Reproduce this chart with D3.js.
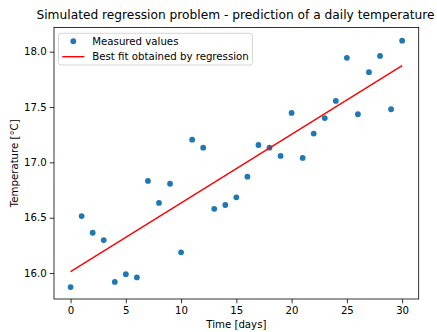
<!DOCTYPE html>
<html><head><meta charset="utf-8">
<script src="https://cdn.jsdelivr.net/npm/d3@7"></script>
<style>body{margin:0;background:#fff}svg{display:block}text{font-family:"DejaVu Sans",sans-serif;fill:#000}</style>
</head><body><svg id="c" width="437" height="332"></svg>
<script>
const days = [0,1,2,3,4,5,6,7,8,9,10,11,12,13,14,15,16,17,18,19,20,21,22,23,24,25,26,27,28,29,30];
const temps = [15.873,16.515,16.364,16.298,15.92,15.99,15.96,16.832,16.634,16.807,16.187,17.205,17.133,16.58,16.615,16.684,16.871,17.157,17.133,17.058,17.447,17.04,17.26,17.40,17.555,17.945,17.435,17.815,17.962,17.48,18.10];
const fitX = [0,30];
const fitY = [16.012,17.874];
const xTicks = [0,5,10,15,20,25,30];
const yTicks = [16.0,16.5,17.0,17.5,18.0];
const title = "Simulated regression problem - prediction of a daily temperature";
const xLabel = "Time [days]";
const yLabel = "Temperature [°C]";
const legendLabels = ["Measured values","Best fit obtained by regression"];

const L=54, R=418.7, T=27.5, B=299;
const svg = d3.select("#c");
const x = d3.scaleLinear().domain([-1.5,31.5]).range([L,R]);
const y = d3.scaleLinear().domain([15.7655,18.2186]).range([B,T]);

// measure to derive font sizes
function fitSize(str, target, base) {
  const t = svg.append("text").attr("font-size", base + "px").text(str);
  const w = t.node().getComputedTextLength();
  t.remove();
  return base * target / w;
}
const titleSize = fitSize(title, 398.5, 12);
const smallSize = fitSize(legendLabels[1], 156.8, 10);

// axes
const xa = svg.append("g").attr("transform",`translate(0,${B})`)
  .call(d3.axisBottom(x).tickValues(xTicks).tickFormat(d3.format("d")).tickSizeOuter(0).tickSize(4.3).tickPadding(3));
const ya = svg.append("g").attr("transform",`translate(${L},0)`)
  .call(d3.axisLeft(y).tickValues(yTicks).tickFormat(d3.format(".1f")).tickSizeOuter(0).tickSize(4.3).tickPadding(3));
[xa,ya].forEach(g=>{g.select(".domain").remove();g.selectAll("line").attr("stroke","#000").attr("stroke-width",0.8);
  g.selectAll("text").attr("font-size",smallSize+"px").attr("font-family","DejaVu Sans").attr("fill","#000");});
xa.selectAll("text").attr("dy","0.8em");

// frame
svg.append("rect").attr("x",L).attr("y",T).attr("width",R-L).attr("height",B-T)
  .attr("fill","none").attr("stroke","#000").attr("stroke-width",0.8);

// points
svg.append("g").selectAll("circle").data(days).join("circle")
  .attr("cx",(d)=>x(d)).attr("cy",(d,i)=>y(temps[i])).attr("r",2.9).attr("fill","#1f77b4");

// fit line
svg.append("path").datum(fitX.map((d,i)=>[d,fitY[i]]))
  .attr("d",d3.line().x(d=>x(d[0])).y(d=>y(d[1])))
  .attr("stroke","#ff0000").attr("stroke-width",1.4).attr("fill","none");

// title & labels
svg.append("text").attr("x",235.5).attr("y",19.3).attr("text-anchor","middle").attr("font-size",titleSize+"px").text(title);
svg.append("text").attr("x",(L+R)/2).attr("y",328).attr("text-anchor","middle").attr("font-size",smallSize+"px").text(xLabel);
svg.append("text").attr("transform",`translate(18.3,${(T+B)/2}) rotate(-90)`).attr("text-anchor","middle").attr("font-size",smallSize+"px").text(yLabel);

// legend
const lg = svg.append("g");
lg.append("rect").attr("x",58.5).attr("y",33.3).attr("width",194).attr("height",31.7).attr("rx",2.5)
  .attr("fill","#fff").attr("fill-opacity",0.8).attr("stroke","#cccccc").attr("stroke-width",0.8);
lg.append("circle").attr("cx",73.3).attr("cy",41.2).attr("r",2.9).attr("fill","#1f77b4");
lg.append("line").attr("x1",62.3).attr("x2",84.3).attr("y1",56.7).attr("y2",56.7).attr("stroke","#ff0000").attr("stroke-width",1.4);
lg.selectAll("text.l").data(legendLabels).join("text").attr("class","l")
  .attr("x",92.3).attr("y",(d,i)=>41.2+i*15.5).attr("dy","0.35em").attr("font-size",smallSize+"px").text(d=>d);
</script></body></html>
